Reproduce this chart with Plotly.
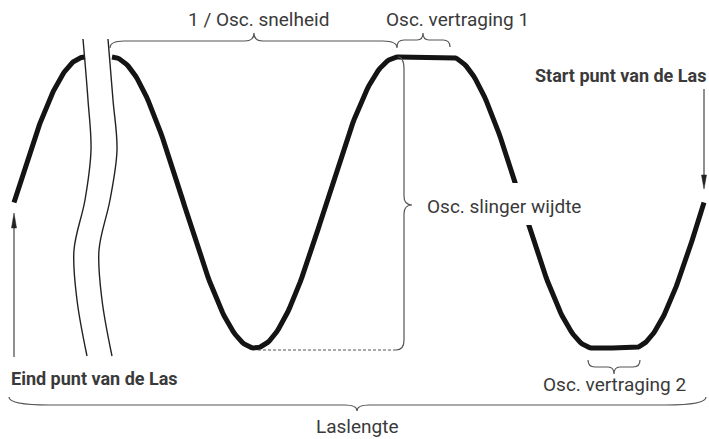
import numpy as np
import plotly.graph_objects as go

W, H = 709, 439

# ---- waveform key points (drawing units = pixels) ----
wave_top, wave_bottom = 57, 348
left_x = [14, 85]
left_y = [202.5, 57]
right_x = [112, 255, 398, 450, 593, 633, 704]
right_y = [57, 348, 57, 57, 348, 348, 202.5]

# ---- break symbol (two thin wavy lines) ----
break_y = [39, 100, 150, 200, 250, 300, 356]
break_left_x = [83, 88, 91, 85, 74, 77, 87]
break_right_x = [108, 113, 117, 110, 99, 102, 112]

# ---- labels ----
labels = ["1 / Osc. snelheid", "Osc. vertraging 1", "Start punt van de Las",
          "Osc. slinger wijdte", "Eind punt van de Las", "Osc. vertraging 2", "Laslengte"]
label_x = [258, 457, 533, 425, 9, 614, 357]
label_y = [19, 19, 75, 206, 378, 384, 426]
label_bold = [False, False, True, False, True, False, False]
label_anchor = ["center", "center", "left", "left", "left", "center", "center"]

# ---- horizontal braces: x0, x1, tip x, line y, end y, tip y, end radius, tip radius ----
braces = [
    (110, 397, 254, 41, 48, 33, 14, 9),
    (397, 450, 423, 40, 47, 33, 7, 6),
    (588, 640, 614, 367, 360, 374, 7, 6),
    (9, 706, 357, 405, 397, 411, 40, 12),
]

TEXT = "#3a3a3a"
THIN = "#555555"


def wave(xk, yk, n=80):
    mid = (wave_top + wave_bottom) / 2
    A = (wave_bottom - wave_top) / 2
    xs, ys = [], []
    for i in range(len(xk) - 1):
        t0 = np.arccos(np.clip((yk[i] - mid) / A, -1, 1))
        t1 = np.arccos(np.clip((yk[i + 1] - mid) / A, -1, 1))
        tt = np.linspace(0, 1, n)
        xs.extend(xk[i] + (xk[i + 1] - xk[i]) * tt)
        ys.extend(mid + A * np.cos(t0 + (t1 - t0) * tt))
    return xs, ys


def hbrace(x0, x1, xm, yl, ye, yt, r, rt):
    return (f"M {x0},{ye} Q {x0},{yl} {x0 + r},{yl} L {xm - rt},{yl} "
            f"Q {xm},{yl} {xm},{yt} Q {xm},{yl} {xm + rt},{yl} "
            f"L {x1 - r},{yl} Q {x1},{yl} {x1},{ye}")


fig = go.Figure()

for xk, yk in [(left_x, left_y), (right_x, right_y)]:
    xs, ys = wave(xk, yk)
    fig.add_trace(go.Scatter(x=xs, y=ys, mode="lines",
                             line=dict(color="#141414", width=5), hoverinfo="skip"))

for bx in [break_left_x, break_right_x]:
    fig.add_trace(go.Scatter(x=bx, y=break_y, mode="lines",
                             line=dict(color="#222222", width=1.4, shape="spline", smoothing=1.0),
                             hoverinfo="skip"))

shapes = []
for b in braces:
    shapes.append(dict(type="path", path=hbrace(*b), line=dict(color=THIN, width=1.2),
                       xref="x", yref="y", layer="above"))

# vertical brace for amplitude
vx, vtop, vbot, vtip = 404, 57, 350, 205
vpath = (f"M 398,{vtop} Q {vx},{vtop} {vx},{vtop + 12} L {vx},{vtip - 9} "
         f"Q {vx},{vtip} {vx + 8},{vtip} Q {vx},{vtip} {vx},{vtip + 9} "
         f"L {vx},{vbot - 10} Q {vx},{vbot} {vx - 8},{vbot}")
shapes.append(dict(type="path", path=vpath, line=dict(color=THIN, width=1.2),
                   xref="x", yref="y", layer="above"))
shapes.append(dict(type="line", x0=vx - 8, x1=258, y0=vbot, y1=vbot,
                   line=dict(color=THIN, width=1.1, dash="3px,2px"), xref="x", yref="y"))

# white gap behind amplitude label
shapes.append(dict(type="rect", x0=470, x1=590, y0=183, y1=225, fillcolor="white",
                   line=dict(width=0), xref="x", yref="y", layer="above"))

# arrows
shapes.append(dict(type="line", x0=14, x1=14, y0=357, y1=226, line=dict(color="#444", width=1.2)))
shapes.append(dict(type="path", path="M 14,213 L 11.5,228 L 16.5,228 Z", fillcolor="#222",
                   line=dict(color="#222", width=0.5)))
shapes.append(dict(type="line", x0=704, x1=704, y0=89, y1=177, line=dict(color="#444", width=1.2)))
shapes.append(dict(type="path", path="M 704,189 L 701.5,175 L 706.5,175 Z", fillcolor="#222",
                   line=dict(color="#222", width=0.5)))

annotations = []
for t, x, y, b, a in zip(labels, label_x, label_y, label_bold, label_anchor):
    annotations.append(dict(text=f"<b>{t}</b>" if b else t, x=x, y=y, xref="x", yref="y",
                            showarrow=False, xanchor=a, yanchor="middle",
                            font=dict(family="Roboto", size=18 if b else 19, color=TEXT)))

fig.update_layout(
    width=W, height=H, margin=dict(l=0, r=0, t=0, b=0),
    paper_bgcolor="white", plot_bgcolor="white", showlegend=False,
    xaxis=dict(range=[0, W], visible=False, fixedrange=True),
    yaxis=dict(range=[H, 0], visible=False, fixedrange=True),
    shapes=shapes, annotations=annotations,
)

fig.write_html("out.html", config={"displayModeBar": False},
               post_script="document.body.style.margin='0';document.body.style.overflow='hidden';")
